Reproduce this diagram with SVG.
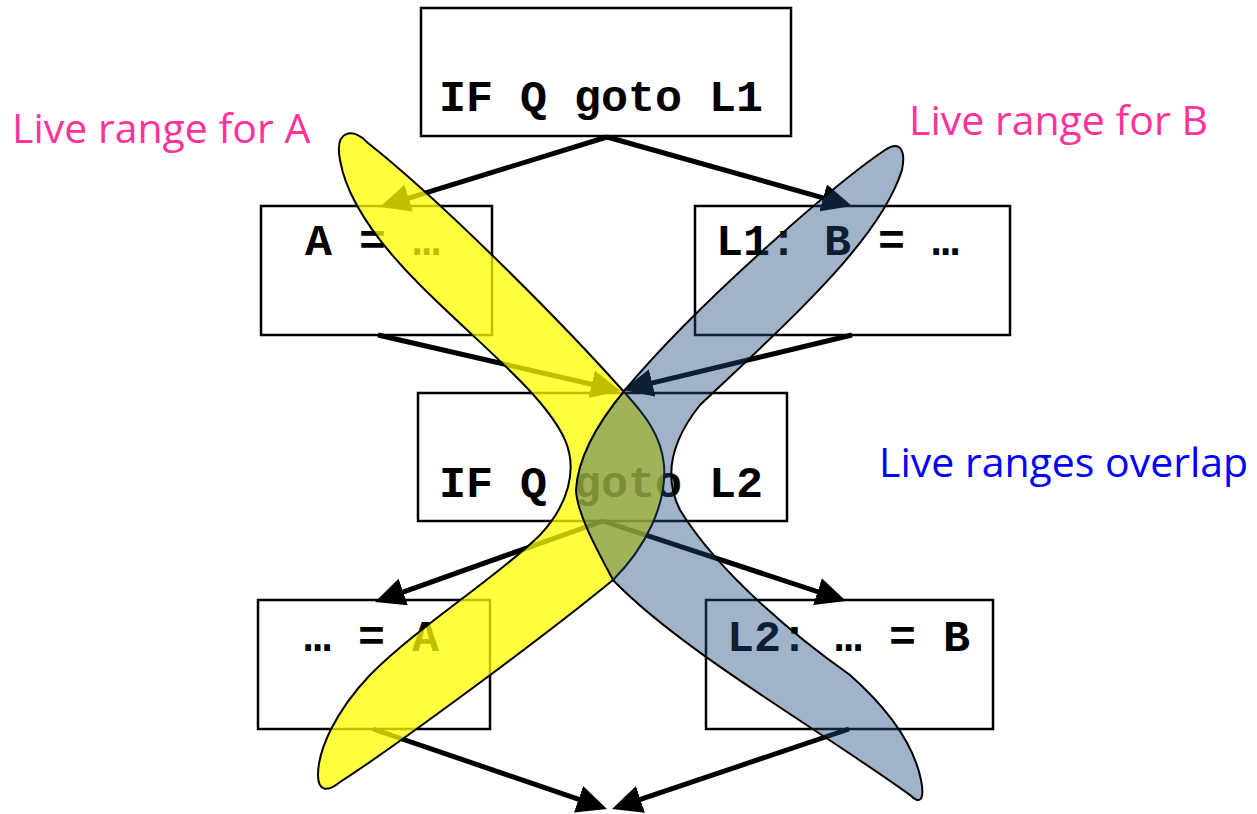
<svg xmlns="http://www.w3.org/2000/svg" width="1257" height="814" viewBox="0 0 1257 814">
<style>
.box{fill:#ffffff;stroke:#000000;stroke-width:2.5}
.code{font-family:"Liberation Mono","Courier New",monospace;font-weight:bold;font-size:45px;fill:#000000}
.lbl{font-family:"Open Sans","Noto Sans",sans-serif;font-size:41px}
.edge{stroke:#000000;stroke-width:5;fill:none;marker-end:url(#ah)}
.range{stroke:#000000;stroke-width:2}
</style>
<defs>
<marker id="ah" markerUnits="userSpaceOnUse" markerWidth="30" markerHeight="28" refX="22" refY="14" orient="auto">
<path d="M0,0 L30,14 L0,28 Z" fill="#000000"/>
</marker>
</defs>
<rect width="1257" height="814" fill="#ffffff"/>
<g id="n1"><rect class="box" x="421" y="8" width="370" height="128"/><text class="code" x="439" y="111">IF Q goto L1</text></g>
<g id="n2"><rect class="box" x="261" y="206" width="231" height="129"/><text class="code" x="305" y="255">A = …</text></g>
<g id="n3"><rect class="box" x="695" y="206" width="315" height="129"/><text class="code" x="716" y="255">L1: B = …</text></g>
<g id="n4"><rect class="box" x="418" y="393" width="369" height="128"/><text class="code" x="439" y="497">IF Q goto L2</text></g>
<g id="n5"><rect class="box" x="258" y="600" width="232" height="129"/><text class="code" x="304" y="651">… = A</text></g>
<g id="n6"><rect class="box" x="706" y="600" width="287" height="129"/><text class="code" x="727" y="651">L2: … = B</text></g>
<g id="connectors">
<line class="edge" x1="607" y1="137" x2="387.6" y2="204.6"/>
<line class="edge" x1="607" y1="137" x2="844.3" y2="203.8"/>
<line class="edge" x1="378" y1="335" x2="613.2" y2="389.2"/>
<line class="edge" x1="852" y1="335" x2="630.8" y2="388.1"/>
<line class="edge" x1="603" y1="521" x2="382.5" y2="599.3"/>
<line class="edge" x1="603" y1="521" x2="838.4" y2="598.5"/>
<line class="edge" x1="373" y1="729" x2="599.4" y2="806.4"/>
<line class="edge" x1="849" y1="729" x2="619.6" y2="806.4"/>
</g>
<g id="rangeA">
<path class="range" fill="#ffff00" fill-opacity="0.75" d="M368,143 C355,128 334,128 340,160 C346,195 370,235 420,285 C480,345 545,395 565,440 C578,470 568,505 540,535 C500,575 420,625 370,675 C335,712 318,750 318,775 C318,792 328,792 340,782 C390,750 540,640 613,580 C645,548 667,505 664,465 C661,435 645,415 625,393 C560,320 440,200 368,143 Z"/>
</g>
<g id="rangeB">
<path class="range" fill="#1f497d" fill-opacity="0.42" d="M885,150 C840,180 700,300 625,390 C600,420 578,455 576,490 C577,515 600,555 613,580 C680,650 820,730 910,795 C920,805 925,800 921,780 C915,750 895,715 850,675 C800,640 720,575 680,510 C665,480 668,445 700,405 C790,320 880,240 902,170 C906,150 900,140 885,150 Z"/>
</g>
<g id="labels">
<text class="lbl" x="12" y="143" fill="#ff3399">Live range for A</text>
<text class="lbl" x="909" y="135" fill="#ff3399">Live range for B</text>
<text class="lbl" x="879" y="477" fill="#0000ff">Live ranges overlap</text>
</g>
</svg>
